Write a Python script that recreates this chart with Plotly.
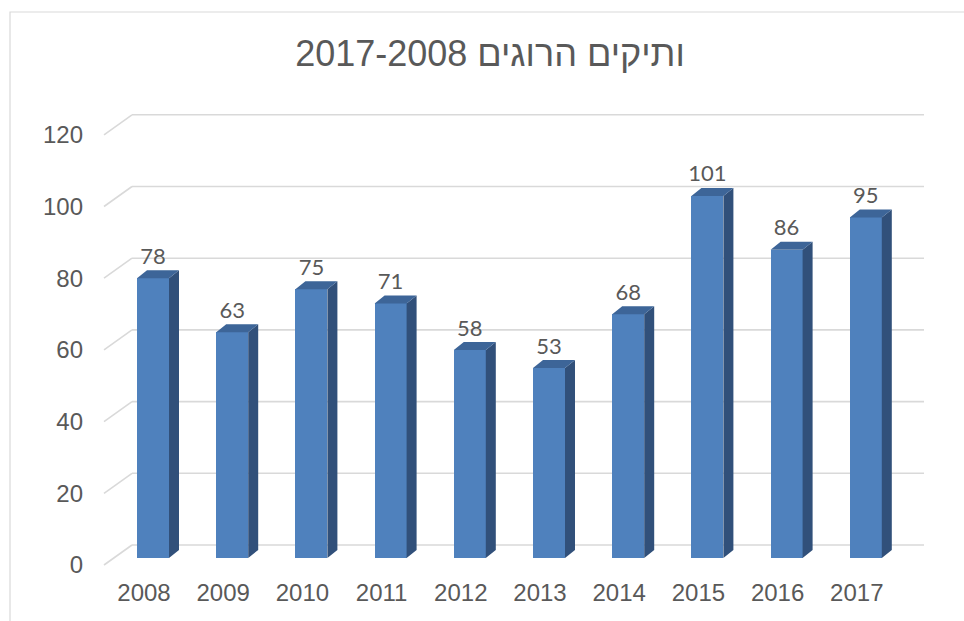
import plotly.graph_objects as go

# ---- data ----
years = ["2008", "2009", "2010", "2011", "2012", "2013", "2014", "2015", "2016", "2017"]
deaths = [78, 63, 75, 71, 58, 53, 68, 101, 86, 95]
y_ticks = [0, 20, 40, 60, 80, 100, 120]
title_text = "ותיקים הרוגים 2017-2008"

# ---- pseudo-3D geometry (pixels) ----
FIG_W, FIG_H = 964, 621
CAT_STEP = 79.2        # px between neighbouring categories
FIRST_X = 153          # px centre of the first bar's front face
ZERO_Y = 558           # px of value 0 on the bars' front plane
PX_PER_UNIT = 3.585    # px per value unit
BAR_W = 32             # front face width
DEPTH_DX, DEPTH_DY = 10, 8      # bar depth projection
WALL_LEFT, WALL_RIGHT = 132, 924  # back wall horizontal extent
WALL_DY = 13           # back wall is raised this much behind the bar plane
FLOOR_LEFT, FLOOR_DY = 104, 7    # front edge of the floor/side wall
LABEL_DX = -9          # category label shift
VALUE_LABEL_GAP = 20   # px from front top to value label centre

M_L, M_R, M_T, M_B = 90, 24, 90, 49

FRONT = "#4f81bd"
SIDE = "#31507a"
TOP = "#3d6598"
GRID = "#d9d9d9"
TEXT = "#595959"


def ux(px):
    return px / CAT_STEP


def uy(px):
    return px / PX_PER_UNIT


def px_to_x(px):
    return (px - FIRST_X) / CAT_STEP


def px_to_y(py):
    return (ZERO_Y - py) / PX_PER_UNIT


xs = list(range(len(years)))
half = ux(BAR_W) / 2
ddx, ddy = ux(DEPTH_DX), uy(DEPTH_DY)

fig = go.Figure()

# front faces
fig.add_trace(go.Bar(
    x=xs, y=deaths, width=ux(BAR_W), marker=dict(color=FRONT, line=dict(width=0)),
    hoverinfo="skip", showlegend=False,
))

# side and top faces
side_x, side_y, top_x, top_y = [], [], [], []
for x, v in zip(xs, deaths):
    xr, xl = x + half, x - half
    side_x += [xr, xr, xr + ddx, xr + ddx, xr, None]
    side_y += [v, 0, ddy, v + ddy, v, None]
    top_x += [xl, xr, xr + ddx, xl + ddx, xl, None]
    top_y += [v, v, v + ddy, v + ddy, v, None]

fig.add_trace(go.Scatter(x=side_x, y=side_y, mode="lines", fill="toself", fillcolor=SIDE,
                         line=dict(width=0, color=SIDE), hoverinfo="skip", showlegend=False))
fig.add_trace(go.Scatter(x=top_x, y=top_y, mode="lines", fill="toself", fillcolor=TOP,
                         line=dict(width=0, color=TOP), hoverinfo="skip", showlegend=False))

# value labels
fig.add_trace(go.Scatter(
    x=xs, y=[v + uy(VALUE_LABEL_GAP) for v in deaths], mode="text",
    text=[str(v) for v in deaths], textposition="middle center",
    textfont=dict(family="Lato, Liberation Sans, Arial", size=22, color=TEXT),
    hoverinfo="skip", showlegend=False,
))

# gridlines: diagonal on the side wall, then along the back wall
shapes = []
wall_l, wall_r, floor_l = px_to_x(WALL_LEFT), px_to_x(WALL_RIGHT), px_to_x(FLOOR_LEFT)
for t in y_ticks:
    back_y = t + uy(WALL_DY)
    front_y = t - uy(FLOOR_DY)
    shapes.append(dict(type="line", xref="x", yref="y", x0=floor_l, y0=front_y, x1=wall_l, y1=back_y,
                       line=dict(color=GRID, width=1.6), layer="below"))
    shapes.append(dict(type="line", xref="x", yref="y", x0=wall_l, y0=back_y, x1=wall_r, y1=back_y,
                       line=dict(color=GRID, width=1.6), layer="below"))

# chart-area border
plot_w = FIG_W - M_L - M_R
plot_h = FIG_H - M_T - M_B
shapes.append(dict(type="rect", xref="paper", yref="paper",
                   x0=(10 - M_L) / plot_w, x1=(975 - M_L) / plot_w,
                   y0=1 - (630 - M_T) / plot_h, y1=1 - (12 - M_T) / plot_h,
                   line=dict(color=GRID, width=1.2), layer="below"))

fig.update_layout(
    width=FIG_W, height=FIG_H,
    margin=dict(l=M_L, r=M_R, t=M_T, b=M_B, autoexpand=False),
    paper_bgcolor="white", plot_bgcolor="white",
    shapes=shapes,
    title=dict(text=title_text, xref="container", yref="container",
               x=490 / FIG_W, y=1 - 53 / FIG_H, xanchor="center", yanchor="middle",
               automargin=False,
               font=dict(family="Liberation Sans, Arial", size=36, color=TEXT)),
    xaxis=dict(range=[px_to_x(M_L), px_to_x(FIG_W - M_R)], automargin=False,
               tickvals=[x + ux(LABEL_DX) for x in xs], ticktext=years,
               showgrid=False, zeroline=False, showline=False, ticks="",
               tickfont=dict(family="Liberation Sans, Arial", size=24, color=TEXT),
               ticklabelstandoff=4),
    yaxis=dict(range=[px_to_y(FIG_H - M_B), px_to_y(M_T)], automargin=False,
               tickvals=[t - uy(FLOOR_DY) for t in y_ticks], ticktext=[str(t) for t in y_ticks],
               showgrid=False, zeroline=False, showline=False, ticks="",
               tickfont=dict(family="Liberation Sans, Arial", size=24, color=TEXT),
               ticklabelstandoff=6),
    bargap=0,
)

fig.write_html("out.html")
